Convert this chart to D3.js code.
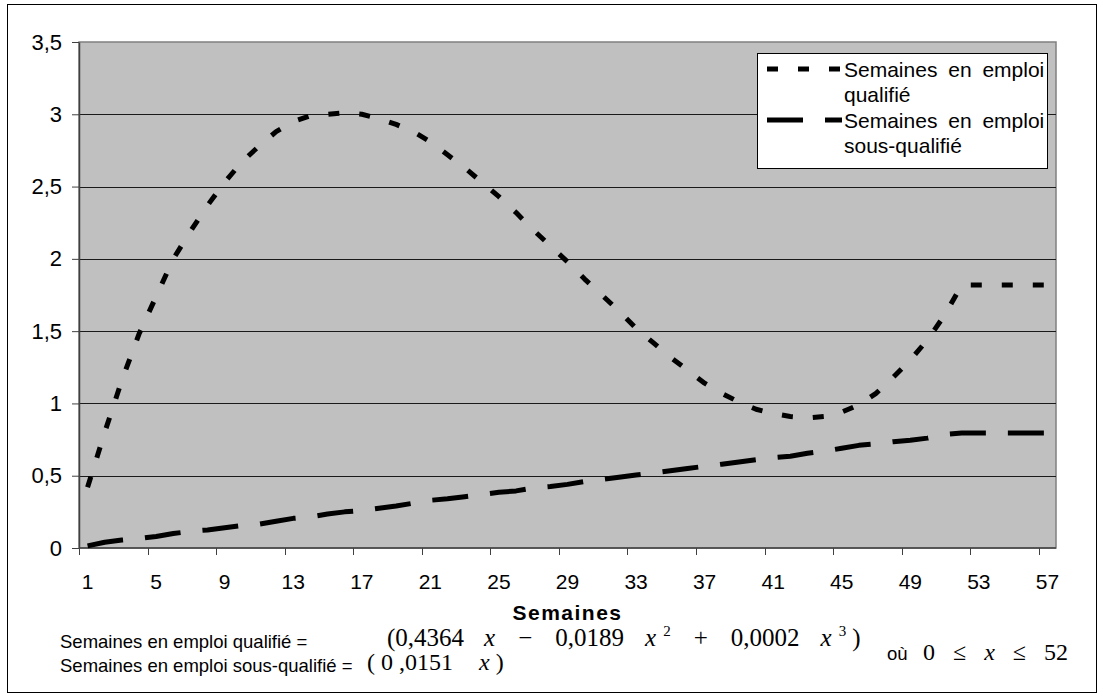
<!DOCTYPE html>
<html>
<head>
<meta charset="utf-8">
<script src="https://cdn.jsdelivr.net/npm/d3@7"></script>
<style>
  body { margin: 0; background: #fff; }
  svg { display: block; }
  text { font-family: "Liberation Sans", Arial, Helvetica, sans-serif; fill: #000; }
  .serif { font-family: "Liberation Serif", "Times New Roman", Times, serif; }
</style>
</head>
<body>
<svg id="chart" width="1103" height="698"></svg>
<script>
// Weeks 1..57 on the category axis
const semaines = d3.range(1, 58);

// Weeks in qualified employment
const qualifie = [
  0.42, 0.80, 1.16, 1.48, 1.74, 2.00, 2.19, 2.37, 2.53, 2.67,
  2.78, 2.88, 2.95, 2.99, 3.00, 3.01, 3.00, 2.97, 2.93, 2.88,
  2.81, 2.72, 2.63, 2.53, 2.43, 2.32, 2.20, 2.09, 1.98, 1.86,
  1.75, 1.64, 1.52, 1.42, 1.32, 1.23, 1.14, 1.07, 1.01, 0.96,
  0.93, 0.91, 0.90, 0.91, 0.94, 0.99, 1.07, 1.18, 1.30, 1.44,
  1.61, 1.82, 1.82, 1.82, 1.82, 1.82, 1.82
];

// Weeks in under-qualified employment
const sousQualifie = [
  0.015, 0.040, 0.055, 0.065, 0.080, 0.100, 0.115, 0.125, 0.140, 0.155,
  0.165, 0.185, 0.205, 0.215, 0.235, 0.250, 0.260, 0.275, 0.290, 0.310,
  0.330, 0.340, 0.355, 0.370, 0.385, 0.395, 0.415, 0.425, 0.440, 0.460,
  0.475, 0.490, 0.505, 0.520, 0.535, 0.550, 0.565, 0.580, 0.595, 0.610,
  0.625, 0.635, 0.655, 0.670, 0.690, 0.710, 0.720, 0.735, 0.745, 0.760,
  0.785, 0.795, 0.795, 0.795, 0.795, 0.795, 0.795
];

const yTicks = [0, 0.5, 1, 1.5, 2, 2.5, 3, 3.5];
const xTickLabels = [1, 5, 9, 13, 17, 21, 25, 29, 33, 37, 41, 45, 49, 53, 57];

const svg = d3.select("#chart");
const plot = { left: 79, top: 42, right: 1056, bottom: 548 };

const x = d3.scaleBand().domain(semaines).range([plot.left, plot.right]);
const y = d3.scaleLinear().domain([0, 3.5]).range([plot.bottom, plot.top]);
const cx = d => x(d) + x.bandwidth() / 2;
const crisp = v => Math.round(v) + 0.5;

// Outer frame
svg.append("rect")
  .attr("x", 7.5).attr("y", 4.5).attr("width", 1089).attr("height", 688)
  .attr("fill", "#fff").attr("stroke", "#000").attr("stroke-width", 1);

// Plot area
svg.append("rect")
  .attr("x", plot.left).attr("y", plot.top)
  .attr("width", plot.right - plot.left).attr("height", plot.bottom - plot.top)
  .attr("fill", "#c0c0c0").attr("stroke", "#808080").attr("stroke-width", 1.5);

// Horizontal gridlines
svg.append("g").selectAll("line")
  .data(yTicks.filter(v => v > 0 && v < 3.5))
  .join("line")
  .attr("x1", plot.left).attr("x2", plot.right)
  .attr("y1", d => crisp(y(d))).attr("y2", d => crisp(y(d)))
  .attr("stroke", "#1a1a1a").attr("stroke-width", 1);

// Y axis
const yAxis = svg.append("g")
  .attr("transform", `translate(${plot.left},0)`)
  .call(d3.axisLeft(y).tickValues(yTicks).tickSize(7).tickSizeOuter(0).tickPadding(10)
    .tickFormat(d => String(d).replace(".", ",")));
yAxis.select(".domain").attr("stroke", "#404040").attr("stroke-width", 1.5);
yAxis.selectAll(".tick line").attr("stroke", "#404040");
yAxis.selectAll(".tick text")
  .attr("font-size", 22).attr("font-family", null);

// X axis: tick marks at the left edge of every 4th category, labels centred on categories
const xg = svg.append("g");
xg.append("line")
  .attr("x1", plot.left).attr("x2", plot.right)
  .attr("y1", plot.bottom).attr("y2", plot.bottom)
  .attr("stroke", "#404040").attr("stroke-width", 1.5);
xg.selectAll("line.tk").data(xTickLabels).join("line").attr("class", "tk")
  .attr("x1", d => crisp(x(d))).attr("x2", d => crisp(x(d)))
  .attr("y1", plot.bottom).attr("y2", plot.bottom + 7)
  .attr("stroke", "#404040");
xg.selectAll("text").data(xTickLabels).join("text")
  .attr("x", d => cx(d)).attr("y", 589)
  .attr("text-anchor", "middle").attr("font-size", 21)
  .text(d => d);

// Axis title
svg.append("text")
  .attr("x", (plot.left + plot.right) / 2).attr("y", 620)
  .attr("text-anchor", "middle").attr("font-size", 21).attr("font-weight", "bold")
  .attr("letter-spacing", 1.5)
  .text("Semaines");

// Series lines
const line = d3.line().x((d, i) => cx(semaines[i])).y(d => y(d));
const styles = [
  { data: qualifie, dash: "11,20" },
  { data: sousQualifie, dash: "36,22" }
];
svg.append("g").selectAll("path").data(styles).join("path")
  .attr("d", d => line(d.data))
  .attr("fill", "none").attr("stroke", "#000").attr("stroke-width", 5)
  .attr("stroke-dasharray", d => d.dash).attr("stroke-linecap", "butt")
  .attr("stroke-linejoin", "round");

// Legend
const lg = svg.append("g");
lg.append("rect").attr("x", 757.5).attr("y", 53.5).attr("width", 290).attr("height", 115)
  .attr("fill", "#fff").attr("stroke", "#000");
const legendRows = [
  { lines: ["Semaines en emploi", "qualifié"], dash: "11,20", sy: 69, base: 77 },
  { lines: ["Semaines en emploi", "sous-qualifié"], dash: "36,22", sy: 120, base: 128 }
];
legendRows.forEach(r => {
  lg.append("line").attr("x1", 767).attr("x2", 842).attr("y1", r.sy).attr("y2", r.sy)
    .attr("stroke", "#000").attr("stroke-width", 5).attr("stroke-dasharray", r.dash);
  const t = lg.append("text").attr("font-size", 21).attr("word-spacing", 5);
  r.lines.forEach((s, k) => {
    t.append("tspan").attr("x", 844).attr("y", r.base + k * 25).text(s);
  });
});

// Fitted equations under the chart
const eq = svg.append("g");
eq.append("text").attr("x", 60).attr("y", 648).attr("font-size", 18.5)
  .text("Semaines en emploi qualifié =");
eq.append("text").attr("x", 60).attr("y", 672).attr("font-size", 18.5)
  .text("Semaines en emploi sous-qualifié =");

// place a run of serif pieces left to right with given gaps
function runs(pieces, x0, baseline, size) {
  const t = eq.append("text").attr("class", "serif").attr("font-size", size)
    .attr("y", baseline).attr("x", x0).style("white-space", "pre");
  pieces.forEach(p => {
    const s = t.append("tspan").text(p.t);
    if (p.dx) s.attr("dx", p.dx);
    if (p.i) s.attr("font-style", "italic");
    if (p.sup) s.attr("font-size", size * 0.6).attr("dy", -size * 0.42);
    if (p.down) s.attr("dy", size * 0.42);
  });
}
runs([
  { t: "(0,4364" },
  { t: "x", i: true, dx: 20 },
  { t: "\u2212", dx: 23 },
  { t: "0,0189", dx: 23 },
  { t: "x", i: true, dx: 21 },
  { t: "2", sup: true, dx: 7 },
  { t: "+", dx: 23, down: true },
  { t: "0,0002", dx: 23 },
  { t: "x", i: true, dx: 21 },
  { t: "3", sup: true, dx: 7 },
  { t: ")", dx: 6, down: true }
], 387, 646, 25);
runs([
  { t: "(" },
  { t: "0", dx: 6 },
  { t: ",0151", dx: 6 },
  { t: "x", i: true, dx: 26 },
  { t: ")", dx: 6 }
], 367, 670, 24);

eq.append("text").attr("x", 887).attr("y", 660).attr("font-size", 18.5).text("où");
runs([
  { t: "0" },
  { t: "\u2264", dx: 18 },
  { t: "x", i: true, dx: 18 },
  { t: "\u2264", dx: 18 },
  { t: "52", dx: 18 }
], 923, 660, 24);
</script>
</body>
</html>
